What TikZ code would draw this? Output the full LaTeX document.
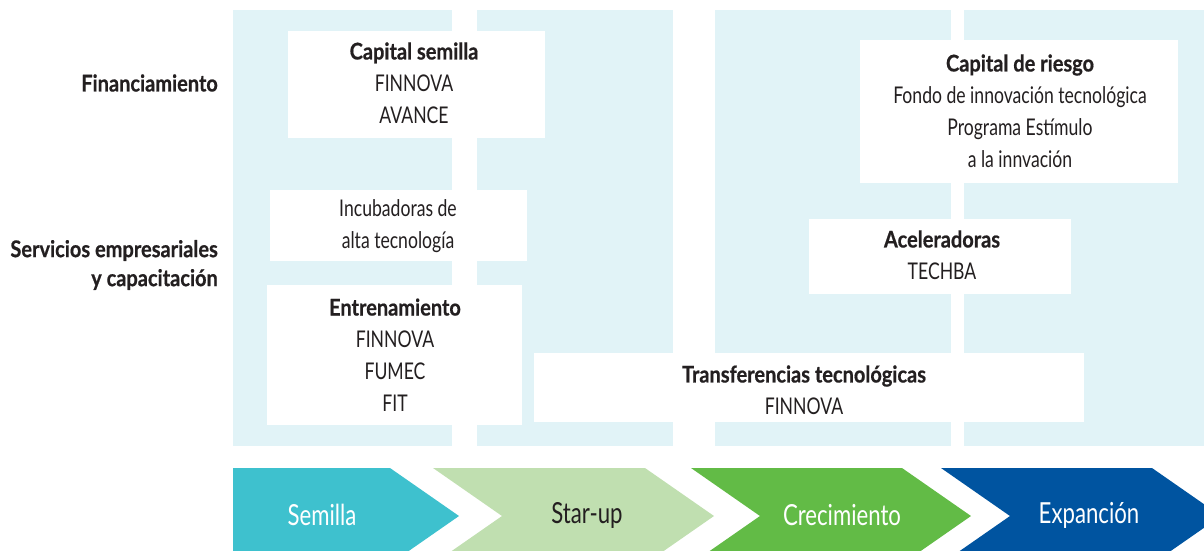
\documentclass[tikz,border=0pt]{standalone}
\usepackage{fontspec}
\setmainfont{Lato}[FakeStretch=0.765, BoldFeatures={FakeStretch=0.87, FakeBold=0.6}]
\definecolor{panel}{HTML}{E1F3F7}
\definecolor{txt}{HTML}{231F20}
\definecolor{cSem}{HTML}{3EC1CE}
\definecolor{cStar}{HTML}{C0DFB0}
\definecolor{cCre}{HTML}{62BB46}
\definecolor{cExp}{HTML}{0054A0}
\tikzset{
  panelbox/.style={fill=panel},
  rowlabel/.style={anchor=east, align=right, text=txt, inner sep=0pt,
    font=\bfseries\fontsize{23}{29}\selectfont},
  celltext/.style={align=center, text=txt, inner sep=0pt,
    font=\fontsize{23}{32}\selectfont},
  stage/.style={inner sep=0pt, font=\fontsize{29}{34}\selectfont}
}
\begin{document}
\begin{tikzpicture}[x=1pt,y=-1pt]
\useasboundingbox (0,0) rectangle (1204,550);
\clip (0,0) rectangle (1204,550);
% panels
\fill[panelbox] (233,10) rectangle (452,446);
\fill[panelbox] (477,10) rectangle (673,446);
\fill[panelbox] (715,10) rectangle (951,446);
\fill[panelbox] (964,10) rectangle (1204,446);
% row labels
\node[rowlabel] (fin) at (218,83) {Financiamiento};
\node[rowlabel] (serv) at (218,265) {Servicios empresariales\\y capacitación};
% boxes
\fill[white] (288,31) rectangle (545,138);
\node[celltext] (cs) at (414,83) {\textbf{Capital semilla}\\FINNOVA\\AVANCE};
\fill[white] (270,190) rectangle (527,261);
\node[celltext] (inc) at (398,226) {Incubadoras de\\alta tecnología};
\fill[white] (267,285) rectangle (522,425);
\node[celltext] (ent) at (395,355) {\textbf{Entrenamiento}\\FINNOVA\\FUMEC\\FIT};
\fill[white] (534,353) rectangle (1084,422);
\node[celltext] (tt) at (804,390) {\textbf{Transferencias tecnológicas}\\FINNOVA};
\fill[white] (860,40) rectangle (1178,183);
\node[celltext] (cr) at (1020,111) {\textbf{Capital de riesgo}\\Fondo de innovación tecnológica\\Programa Estímulo\\a la innvación};
\fill[white] (809,219) rectangle (1071,294);
\node[celltext] (acc) at (942,255) {\textbf{Aceleradoras}\\TECHBA};
% chevrons
\fill[cSem] (233,468) -- (390,468) -- (459,516) -- (390,564) -- (233,564) -- cycle;
\fill[cStar] (433,468) -- (645,468) -- (714,516) -- (645,564) -- (433,564) -- (502,516) -- cycle;
\fill[cCre] (691,468) -- (902,468) -- (971,516) -- (902,564) -- (691,564) -- (760,516) -- cycle;
\fill[cExp] (941,468) -- (1152,468) -- (1221,516) -- (1152,564) -- (941,564) -- (1010,516) -- cycle;
\node[stage, text=white] (s1) at (322,515) {Semilla};
\node[stage, text=txt] (s2) at (587,515) {Star-up};
\node[stage, text=white] (s3) at (842,515) {Crecimiento};
\node[stage, text=white] (s4) at (1089,515) {Expanción};
\end{tikzpicture}
\end{document}
